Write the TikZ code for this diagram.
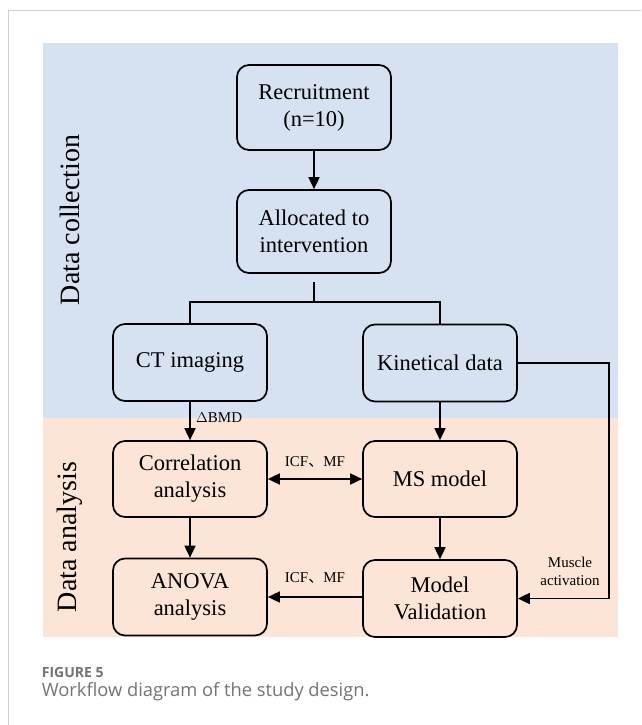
\documentclass[tikz,border=0pt]{standalone}
\usepackage{fontspec}
\setmainfont{Liberation Serif}
\setsansfont{Open Sans}
\newfontfamily\cjk{Noto Sans CJK SC}
\usetikzlibrary{arrows.meta}

\definecolor{collectblue}{RGB}{214,226,241}
\definecolor{analysispink}{RGB}{252,228,215}
\definecolor{captiongray}{RGB}{115,115,115}
\definecolor{framegray}{RGB}{205,205,205}

\begin{document}
\begin{tikzpicture}[x=1pt, y=-1pt, line width=1.7pt,
  box/.style={draw, rounded corners=12pt, minimum width=154pt, minimum height=77pt,
    inner sep=0pt, align=center, font=\fontsize{22.5}{27}\selectfont},
  side/.style={rotate=90, font=\fontsize{28}{32}\selectfont},
  small/.style={font=\fontsize{15}{18}\selectfont, align=center},
  arr/.style={-{Triangle[length=12pt,width=11pt]}}]
\useasboundingbox (0,0) rectangle (641,725);

% frame and panels
\draw[framegray, line width=1pt] (641,11) -- (8,11) -- (8,725);
\fill[collectblue] (43,43) rectangle (618,418);
\fill[analysispink] (43,418) rectangle (618,637);

\node[side] (collect) at (70,220) {Data collection};
\node[side] (analysis) at (70,537) {Data analysis};

% boxes
\node[box, minimum height=85pt] (rec) at (314,107.5) {Recruitment\\(n=10)};
\node[box, minimum height=83pt] (alloc) at (314,231.5) {Allocated to\\intervention};
\node[box] (ct) at (190,362.5) {CT imaging};
\node[box] (kin) at (440,363) {Kinetical data};
\node[box, minimum height=76pt] (corr) at (190,479) {Correlation\\analysis};
\node[box, minimum height=76pt] (ms) at (440,479) {MS model};
\node[box] (anova) at (190,597) {ANOVA\\analysis};
\node[box] (val) at (440,598.5) {Model\\Validation};

% connectors
\coordinate (stem) at (314,282);
\coordinate (split) at (314,302);
\coordinate (bend) at (609,0);

\draw[arr] (rec) -- (alloc);
\draw (stem) -- (split);
\draw (ct.north) |- (split) -| (kin.north);

\draw[arr] (ct) -- node[small, right, pos=0.42, xshift=2pt] {$\Delta$BMD} (corr);
\draw[arr] (kin) -- (ms);
\draw[{Triangle[length=12pt,width=11pt]}-{Triangle[length=12pt,width=11pt]}] (corr) --
  node[small, above, yshift=7pt] {ICF{\cjk 、}MF} (ms);
\draw[arr] (corr) -- (anova);
\draw[arr] (ms) -- (val);
\draw[arr] (val.west |- anova) -- node[small, above, yshift=9pt] {ICF{\cjk 、}MF} (anova.east);
\draw[arr] (kin.east) -- (kin.east -| bend) |- (val.east);
\node[small] (muscle) at (570,571) {Muscle\\activation};

% caption
\node[anchor=west, inner sep=0pt, text=captiongray, font=\sffamily\bfseries\fontsize{14}{16}\selectfont]
  (figlabel) at (41,672) {FIGURE 5};
\node[anchor=west, inner sep=0pt, text=captiongray, font=\sffamily\fontsize{18.3}{22}\selectfont]
  (figtext) at (41,692) {Workflow diagram of the study design.};
\end{tikzpicture}
\end{document}
